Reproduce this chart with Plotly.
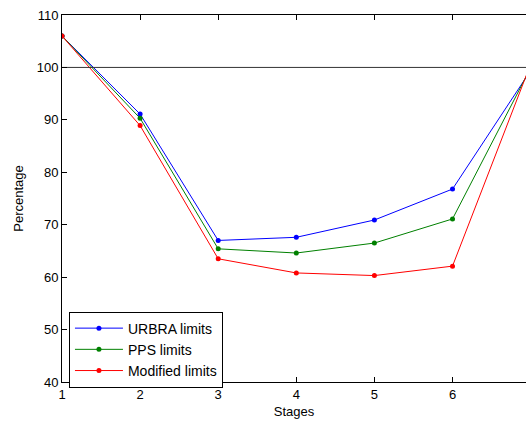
import plotly.graph_objects as go

# Stage numbers and percentage values for each limit scheme
stages = [1, 2, 3, 4, 5, 6, 7]
urbra_limits = [106.0, 91.1, 67.0, 67.6, 70.9, 76.8, 99.4]
pps_limits = [106.0, 90.3, 65.4, 64.6, 66.5, 71.1, 99.9]
modified_limits = [106.0, 88.9, 63.5, 60.8, 60.3, 62.1, 100.6]
reference_level = 100

FONT = "Liberation Sans, Arial, Helvetica, sans-serif"

fig = go.Figure()

series = [
    ("URBRA limits", urbra_limits, "#0000ff"),
    ("PPS limits", pps_limits, "#008000"),
    ("Modified limits", modified_limits, "#ff0000"),
]
for name, values, color in series:
    fig.add_trace(go.Scatter(
        x=stages, y=values, name=name, mode="lines+markers",
        line=dict(color=color, width=1),
        marker=dict(color=color, size=5, symbol="circle"),
    ))

# Horizontal reference line at 100 %
fig.add_trace(go.Scatter(
    x=[stages[0], stages[-1]], y=[reference_level, reference_level],
    mode="lines", line=dict(color="#333333", width=1), showlegend=False,
    hoverinfo="skip",
))

fig.update_layout(
    width=526, height=423,
    margin=dict(l=62, r=0, t=15, b=41),
    paper_bgcolor="white", plot_bgcolor="white",
    font=dict(family=FONT, size=13, color="black"),
    showlegend=True,
    legend=dict(
        x=0.015, y=0.192, xanchor="left", yanchor="top",
        bgcolor="white", bordercolor="black", borderwidth=1,
        font=dict(family=FONT, size=14),
        itemwidth=48,
        tracegroupgap=0,
    ),
)

fig.update_xaxes(
    range=[1, 1 + (526 - 62) / 78.1],
    tickmode="array", tickvals=[1, 2, 3, 4, 5, 6, 7],
    ticks="inside", ticklen=5, tickcolor="black",
    showline=True, linecolor="black", linewidth=1, mirror="ticks",
    showgrid=False, zeroline=False,
    title=dict(text="Stages", standoff=6, font=dict(size=13)),
    tickfont=dict(size=13),
)
fig.update_yaxes(
    range=[40, 110], tickmode="array",
    tickvals=[40, 50, 60, 70, 80, 90, 100, 110],
    ticks="inside", ticklen=5, tickcolor="black",
    showline=True, linecolor="black", linewidth=1, mirror=False,
    showgrid=False, zeroline=False,
    title=dict(text="Percentage", standoff=10, font=dict(size=13)),
    tickfont=dict(size=13),
)

fig.write_html("out.html")
